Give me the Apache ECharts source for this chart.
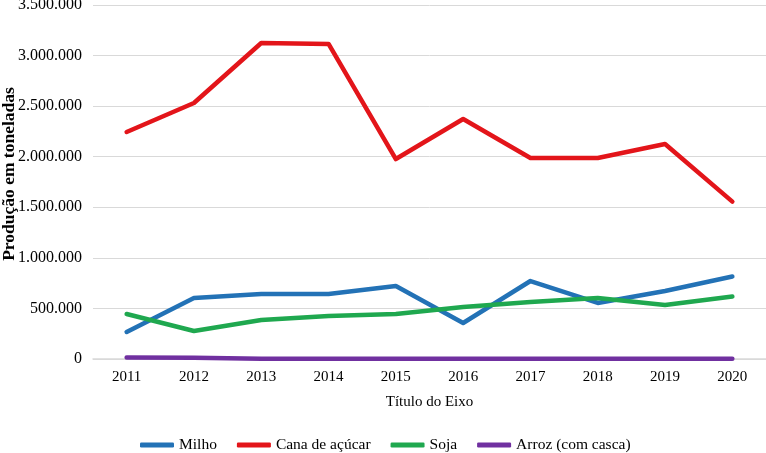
<!DOCTYPE html>
<html><head><meta charset="utf-8">
<script src="https://cdn.jsdelivr.net/npm/echarts@6/dist/echarts.min.js"></script>
<style>html,body{margin:0;padding:0;background:#fff}#c{width:766px;height:453px}</style>
</head><body><div id="c"></div>
<script>
const years = ['2011','2012','2013','2014','2015','2016','2017','2018','2019','2020'];
const milho = [267000, 603000, 643000, 643000, 722000, 356000, 771000, 554000, 672000, 815000];
const cana = [2244000, 2531000, 3124000, 3115000, 1977000, 2373000, 1987000, 1987000, 2126000, 1556000];
const soja = [445000, 277000, 386000, 425000, 445000, 514000, 564000, 603000, 534000, 617000];
const arroz = [15000, 12000, 3000, 3000, 3000, 3000, 3000, 3000, 3000, 3000];
const yTicks = [0, 500000, 1000000, 1500000, 2000000, 2500000, 3000000, 3500000];
const yTitle = 'Produção em toneladas';

const font = '"Liberation Serif", "Times New Roman", serif';
const fmt = v => String(v).replace(/\B(?=(\d{3})+(?!\d))/g, '.');
const chart = echarts.init(document.getElementById('c'));
const mk = (name, data, color) => ({
  name, type: 'line', data, symbol: 'none', smooth: false,
  lineStyle: { width: 4.5, color, cap: 'round', join: 'round' }, itemStyle: { color }
});
chart.setOption({
  animation: false,
  textStyle: { fontFamily: font },
  grid: { left: 93, top: 5, right: 0, bottom: 94, containLabel: false, outerBoundsMode: 'none' },
  graphic: [{
    type: 'text', x: 9, y: 174, rotation: Math.PI / 2,
    style: { text: yTitle, font: 'bold 17.5px ' + font, fill: '#000', align: 'center', verticalAlign: 'middle' }
  }],
  legend: {
    left: 135, top: 432, itemWidth: 34, itemHeight: 5, itemGap: 20,
    textStyle: { fontFamily: font, fontSize: 15.5, color: '#000' },
    icon: 'roundRect',
    data: ['Milho', 'Cana de açúcar', 'Soja', 'Arroz (com casca)']
  },
  xAxis: {
    type: 'category', data: years, boundaryGap: true,
    name: 'Título do Eixo', nameLocation: 'middle', nameGap: 36,
    nameTextStyle: { fontFamily: font, fontSize: 15, color: '#000' },
    axisLine: { lineStyle: { color: '#d9d9d9', width: 1.5 } },
    axisTick: { show: false },
    axisLabel: { fontFamily: font, fontSize: 15, color: '#000', margin: 11 }
  },
  yAxis: {
    type: 'value', min: yTicks[0], max: yTicks[yTicks.length - 1], interval: 500000,
    axisLine: { show: false }, axisTick: { show: false },
    axisLabel: { fontFamily: font, fontSize: 16, color: '#000', margin: 11, formatter: v => fmt(v) },
    splitLine: { lineStyle: { color: '#d9d9d9', width: 1 } }
  },
  series: [
    mk('Milho', milho, '#2372b6'),
    mk('Cana de açúcar', cana, '#e3151a'),
    mk('Soja', soja, '#1fa84f'),
    mk('Arroz (com casca)', arroz, '#7030a0')
  ]
});
</script></body></html>
